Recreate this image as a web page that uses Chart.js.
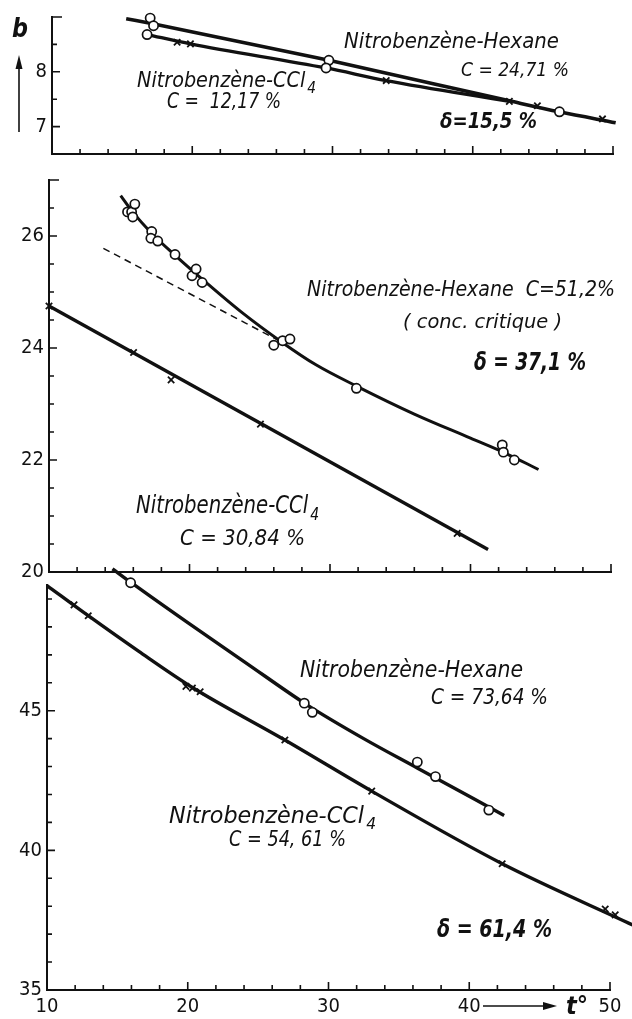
<!DOCTYPE html>
<html>
<head>
<meta charset="utf-8">
<script src="https://cdn.jsdelivr.net/npm/chart.js@4.4.1/dist/chart.umd.min.js"></script>
<style>
html, body { margin: 0; padding: 0; background: #fff; }
#wrap { position: relative; width: 632px; height: 1019px; overflow: hidden; background: #fff; }
canvas { position: absolute; left: 0; }
</style>
</head>
<body>
<div id="wrap">
  <canvas id="c1" width="632" height="172" style="top:0px"></canvas>
  <canvas id="c2" width="632" height="440" style="top:160px"></canvas>
  <canvas id="c3" width="632" height="464" style="top:555px"></canvas>
</div>
<script>
const INK = '#111';
const FONT = "'Liberation Sans Narrow', 'DejaVu Sans Condensed', 'Liberation Sans', sans-serif";

// x axis: temperature t°
const xLabels = [10, 20, 30, 40, 50];

// top panel (hexane C = 24,71 %, CCl4 C = 12,17 %)
const topYLabels = [7, 8];
const topCircT = [17.0, 17.24, 16.78, 29.74, 29.54, 46.18];
const topCircB = [8.98, 8.84, 8.68, 8.21, 8.07, 7.27];
const topCrossT = [18.92, 19.87, 33.83, 42.61, 44.61, 49.25];
const topCrossB = [8.54, 8.51, 7.84, 7.46, 7.38, 7.14];
const topHexT = [15.29, 17.1, 29.74, 42.61, 46.18, 50.19];
const topHexB = [8.97, 8.88, 8.21, 7.47, 7.27, 7.07];
const topCclT = [16.78, 19.87, 29.54, 33.83, 42.61];
const topCclB = [8.68, 8.51, 8.07, 7.84, 7.46];

// middle panel (hexane C = 51,2 %, CCl4 C = 30,84 %)
const midYLabels = [20, 22, 24, 26];
const midCircT = [15.59, 15.88, 16.11, 15.96, 17.31, 17.25, 17.74, 18.97, 20.18, 20.47, 20.9, 26.0, 26.63, 27.15, 31.88, 42.26, 42.34, 43.12];
const midCircB = [26.43, 26.43, 26.57, 26.34, 26.08, 25.96, 25.91, 25.67, 25.29, 25.41, 25.17, 24.05, 24.13, 24.16, 23.28, 22.27, 22.14, 22.0];
const midCrossT = [10, 16.02, 18.69, 25.05, 39.05];
const midCrossB = [24.75, 23.92, 23.43, 22.64, 20.69];
const midHexT = [15.1, 15.95, 17.3, 19.0, 20.9, 23.7, 26.6, 29.0, 31.88, 36.0, 40.0, 42.5, 44.84];
const midHexB = [26.72, 26.43, 26.05, 25.65, 25.23, 24.64, 24.1, 23.7, 23.32, 22.82, 22.39, 22.12, 21.83];
const midDashT = [13.87, 26.6];
const midDashB = [25.78, 24.1];
const midCclT = [10, 41.25];
const midCclB = [24.75, 20.4];

// bottom panel (hexane C = 73,64 %, CCl4 C = 54,61 %)
const botYLabels = [35, 40, 45];
const botCircT = [15.94, 28.28, 28.85, 36.31, 37.6, 41.39];
const botCircB = [49.58, 45.27, 44.94, 43.16, 42.64, 41.44];
const botCrossT = [11.92, 12.93, 19.87, 20.33, 20.88, 26.9, 33.07, 42.34, 49.66, 50.37];
const botCrossB = [48.79, 48.4, 45.87, 45.81, 45.68, 43.95, 42.12, 39.52, 37.9, 37.69];
const botHexT = [14.65, 15.94, 20.0, 24.0, 28.5, 32.5, 36.3, 42.48];
const botHexB = [50.08, 49.6, 48.15, 46.76, 45.2, 44.0, 42.95, 41.25];
const botCclT = [10, 12.93, 16.5, 20.33, 26.9, 33.07, 42.34, 51.6];
const botCclB = [49.48, 48.4, 47.13, 45.83, 43.95, 42.12, 39.52, 37.33];

const topTexts = [
  { text: 'Nitrobenzène-Hexane', x1: 344, x2: 559, y: 48, size: 21 },
  { text: 'C = 24,71 %', x1: 461, x2: 569, y: 76, size: 20 },
  { text: 'Nitrobenzène-CCl', sub: '4', x1: 137, x2: 316, y: 87, size: 21 },
  { text: 'C =  12,17 %', x1: 167, x2: 281, y: 108, size: 21 },
  { text: 'δ=15,5 %', x1: 440, x2: 537, y: 128, size: 21, bold: true }
];
const midTexts = [
  { text: 'Nitrobenzène-Hexane  C=51,2%', x1: 307, x2: 615, y: 296, size: 21 },
  { text: '( conc. critique )', x1: 403, x2: 562, y: 328, size: 20 },
  { text: 'δ = 37,1 %', x1: 474, x2: 586, y: 370, size: 25, bold: true },
  { text: 'Nitrobenzène-CCl', sub: '4', x1: 136, x2: 319, y: 513, size: 24 },
  { text: 'C = 30,84 %', x1: 180, x2: 305, y: 545, size: 22 }
];
const botTexts = [
  { text: 'Nitrobenzène-Hexane', x1: 300, x2: 523, y: 677, size: 23 },
  { text: 'C = 73,64 %', x1: 431, x2: 548, y: 704, size: 22 },
  { text: 'Nitrobenzène-CCl', sub: '4', x1: 169, x2: 376, y: 823, size: 23 },
  { text: 'C = 54, 61 %', x1: 229, x2: 346, y: 846, size: 22 },
  { text: 'δ = 61,4 %', x1: 437, x2: 552, y: 937, size: 24, bold: true }
];

function pts(ts, bs) {
  return ts.map((t, i) => ({ x: t, y: bs[i] }));
}

function circles(ts, bs) {
  return { data: pts(ts, bs), showLine: false, pointStyle: 'circle', pointRadius: 4.6,
    pointBackgroundColor: '#fff', pointBorderColor: INK, pointBorderWidth: 1.7, clip: false };
}

function crosses(ts, bs) {
  return { data: pts(ts, bs), showLine: false, pointStyle: 'crossRot', pointRadius: 4.5,
    pointBorderColor: INK, pointBorderWidth: 1.8, clip: false };
}

function curve(ts, bs, w, dash) {
  return { data: pts(ts, bs), showLine: true, pointRadius: 0, borderColor: INK, borderWidth: w,
    borderDash: dash || [], cubicInterpolationMode: 'monotone', clip: false };
}

function drawLabel(ctx, it, top) {
  const style = 'italic ' + (it.bold ? 'bold ' : '');
  const main = style + it.size + 'px ' + FONT;
  const small = style + Math.round(it.size * 0.7) + 'px ' + FONT;
  ctx.save();
  ctx.font = main;
  const w = ctx.measureText(it.text).width;
  let sw = 0;
  if (it.sub) {
    ctx.font = small;
    sw = ctx.measureText(it.sub).width + 2;
  }
  const k = (it.x2 - it.x1) / (w + sw);
  ctx.translate(it.x1, it.y - top);
  ctx.scale(k, 1);
  ctx.fillStyle = INK;
  ctx.textBaseline = 'alphabetic';
  ctx.font = main;
  ctx.fillText(it.text, 0, 0);
  if (it.sub) {
    ctx.font = small;
    ctx.fillText(it.sub, w + 2, it.size * 0.28);
  }
  ctx.restore();
}

function onStep(v, step) {
  const r = v / step;
  return Math.abs(r - Math.round(r)) < 1e-6;
}

// ticks point inwards, like on the printed figure
function tickPlugin(yStep, yLabels) {
  return {
    id: 'inTicks',
    afterDraw(chart) {
      const { ctx, chartArea: a, scales: { x, y } } = chart;
      ctx.save();
      ctx.strokeStyle = INK;
      ctx.lineWidth = 1.6;
      ctx.beginPath();
      x.ticks.forEach(t => {
        const px = x.getPixelForValue(t.value);
        const len = onStep(t.value, 10) ? 8 : 5;
        ctx.moveTo(px, a.bottom);
        ctx.lineTo(px, a.bottom - len);
      });
      y.ticks.forEach(t => {
        if (!onStep(t.value, yStep)) return;
        const py = y.getPixelForValue(t.value);
        let len = yLabels.includes(t.value) ? 8 : 5;
        if (t.value === y.max) len = 10;
        ctx.moveTo(a.left, py);
        ctx.lineTo(a.left + len, py);
      });
      ctx.stroke();
      ctx.restore();
    }
  };
}

function textPlugin(items, top, extra) {
  return {
    id: 'texts',
    afterDraw(chart) {
      const ctx = chart.ctx;
      items.forEach(it => drawLabel(ctx, it, top));
      if (extra) extra(ctx, top);
    }
  };
}

function makePanel(id, top, h, box, xh, showX, y, datasets, texts, extra) {
  return new Chart(document.getElementById(id), {
    type: 'scatter',
    data: { datasets: datasets },
    options: {
      responsive: false,
      animation: false,
      events: [],
      layout: {
        padding: {
          left: box.left - 44,
          top: box.top - top,
          right: 632 - box.right,
          bottom: h - (box.bottom - top) - xh
        }
      },
      plugins: { legend: { display: false }, tooltip: { enabled: false } },
      scales: {
        x: {
          type: 'linear', min: 10, max: 50,
          grid: { display: false, drawTicks: false },
          border: { display: true, color: INK, width: 2 },
          ticks: {
            display: showX, stepSize: 2, autoSkip: false, maxRotation: 0, padding: 5,
            color: INK, font: { family: FONT, size: 20 },
            callback: v => xLabels.includes(v) ? String(v) : ''
          },
          afterFit: s => { s.height = xh; }
        },
        y: {
          type: 'linear', min: y.min, max: y.max,
          grid: { display: false, drawTicks: false },
          border: { display: true, color: INK, width: 2 },
          ticks: {
            stepSize: y.step, autoSkip: false, includeBounds: y.bounds, padding: 5,
            color: INK, font: { family: FONT, size: 20 },
            callback: v => y.labels.includes(v) ? String(v) : ''
          },
          afterFit: s => { s.width = 44; }
        }
      }
    },
    plugins: [tickPlugin(y.step, y.labels), textPlugin(texts, top, extra)]
  });
}

makePanel('c1', 0, 172, { left: 52, right: 613, top: 16, bottom: 154 }, 8, false,
  { min: 6.5, max: 9, step: 0.5, labels: topYLabels, bounds: true },
  [
    circles(topCircT, topCircB),
    crosses(topCrossT, topCrossB),
    curve(topHexT, topHexB, 3.6),
    curve(topCclT, topCclB, 3.3)
  ],
  topTexts,
  (ctx, top) => {
    ctx.save();
    ctx.strokeStyle = INK;
    ctx.fillStyle = INK;
    ctx.lineWidth = 1.6;
    ctx.beginPath();
    ctx.moveTo(19, 132 - top);
    ctx.lineTo(19, 64 - top);
    ctx.stroke();
    ctx.beginPath();
    ctx.moveTo(19, 55 - top);
    ctx.lineTo(15.5, 69 - top);
    ctx.lineTo(22.5, 69 - top);
    ctx.closePath();
    ctx.fill();
    ctx.restore();
    drawLabel(ctx, { text: 'b', x1: 12, x2: 28, y: 37, size: 26, bold: true }, top);
  });

makePanel('c2', 160, 440, { left: 49, right: 611, top: 180, bottom: 572 }, 8, false,
  { min: 20, max: 27, step: 0.5, labels: midYLabels, bounds: true },
  [
    circles(midCircT, midCircB),
    crosses(midCrossT, midCrossB),
    curve(midHexT, midHexB, 3),
    curve(midDashT, midDashB, 1.5, [7, 5]),
    curve(midCclT, midCclB, 3.4)
  ],
  midTexts, null);

makePanel('c3', 555, 464, { left: 47, right: 610, top: 585, bottom: 990 }, 29, true,
  { min: 35, max: 49.5, step: 1, labels: botYLabels, bounds: false },
  [
    circles(botCircT, botCircB),
    crosses(botCrossT, botCrossB),
    curve(botHexT, botHexB, 3.4),
    curve(botCclT, botCclB, 3.4)
  ],
  botTexts,
  (ctx, top) => {
    ctx.save();
    ctx.strokeStyle = INK;
    ctx.fillStyle = INK;
    ctx.lineWidth = 1.3;
    ctx.beginPath();
    ctx.moveTo(483, 1006 - top);
    ctx.lineTo(546, 1006 - top);
    ctx.stroke();
    ctx.beginPath();
    ctx.moveTo(557, 1006 - top);
    ctx.lineTo(543, 1002 - top);
    ctx.lineTo(543, 1010 - top);
    ctx.closePath();
    ctx.fill();
    ctx.restore();
    drawLabel(ctx, { text: 't°', x1: 566, x2: 588, y: 1014, size: 24, bold: true }, top);
  });
</script>
</body>
</html>
